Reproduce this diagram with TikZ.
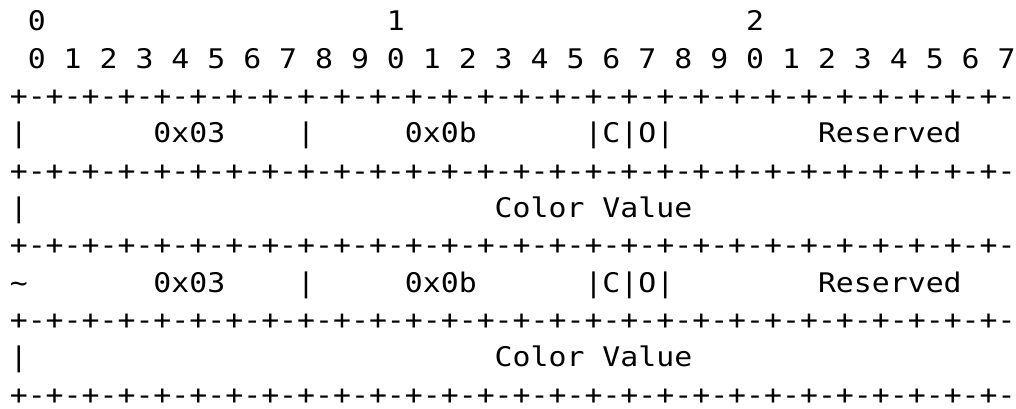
\documentclass[tikz,border=0pt]{standalone}
\usepackage{fontspec}
\newfontfamily\monofont[FakeStretch=1.105]{DejaVu Sans Mono}
\tikzset{
  txt/.style={anchor=base west, inner sep=0pt, outer sep=0pt,
              font=\monofont\fontsize{20.25pt}{24pt}\selectfont, text=black},
}
% place a text fragment at column #2 of line #3 (character grid)
\newcommand\gridtext[4]{\node[txt] (#1) at ({9.8+17.96*(#2)},{30.8+37.35*(#3)}) {#4};}
% border line of the field layout, boxed without depth
\newcommand\ruler{\raisebox{0pt}[\height][0pt]{+-+-+-+-+-+-+-+-+-+-+-+-+-+-+-+-+-+-+-+-+-+-+-+-+-+-+-+-}}
\begin{document}
\begin{tikzpicture}[x=0.75pt,y=-0.75pt]
\useasboundingbox (0,0) rectangle (1016,409);
% bit numbering
\gridtext{tens0}{1}{0}{0}
\gridtext{tens1}{21}{0}{1}
\gridtext{tens2}{41}{0}{2}
\foreach \k in {0,...,27}{
  \pgfmathtruncatemacro\d{mod(\k,10)}
  \gridtext{bit\k}{1+2*\k}{1}{\d}
}
% borders
\gridtext{sepA}{0}{2}{\ruler}
\gridtext{sepB}{0}{4}{\ruler}
\gridtext{sepC}{0}{6}{\ruler}
\gridtext{sepD}{0}{8}{\ruler}
\gridtext{sepE}{0}{10}{\ruler}
% first element
\gridtext{barA}{0}{3}{|}
\gridtext{typeA}{8}{3}{0x03}
\gridtext{barB}{16}{3}{|}
\gridtext{lenA}{22}{3}{0x0b}
\gridtext{flagsA}{32}{3}{|C|O|}
\gridtext{resA}{45}{3}{Reserved}
\gridtext{barC}{0}{5}{|}
\gridtext{valA}{27}{5}{Color Value}
% second element
\gridtext{tilde}{0}{7}{\char"7E}
\gridtext{typeB}{8}{7}{0x03}
\gridtext{barD}{16}{7}{|}
\gridtext{lenB}{22}{7}{0x0b}
\gridtext{flagsB}{32}{7}{|C|O|}
\gridtext{resB}{45}{7}{Reserved}
\gridtext{barE}{0}{9}{|}
\gridtext{valB}{27}{9}{Color Value}
\end{tikzpicture}
\end{document}
